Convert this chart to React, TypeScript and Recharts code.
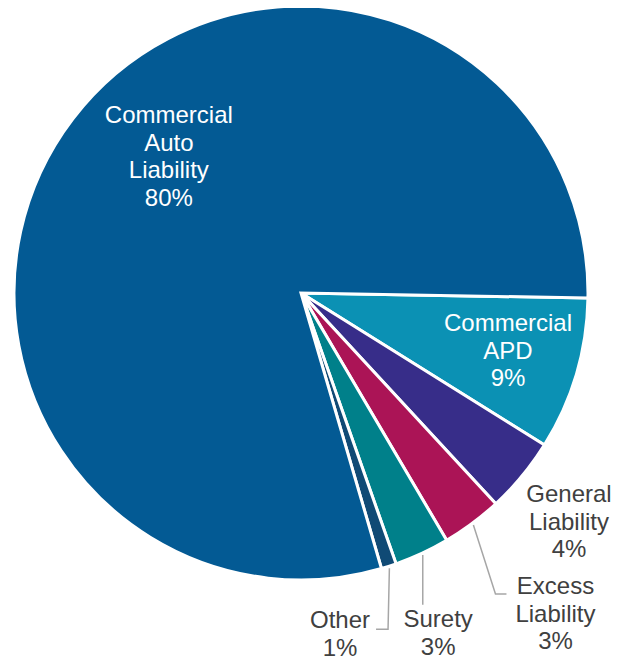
import React from 'react';
import { PieChart, Pie, Cell } from 'recharts';

const categories = ['Commercial APD', 'General Liability', 'Excess Liability', 'Surety', 'Other', 'Commercial Auto Liability'];
const shares = [8.6, 4.25, 3.4, 3.1, 0.85, 79.8];
const labelLines = [
    ['Commercial', 'APD'],
    ['General', 'Liability'],
    ['Excess', 'Liability'],
    ['Surety'],
    ['Other'],
    ['Commercial', 'Auto', 'Liability'],
];

const COLORS = ['#0b91b4', '#372d89', '#ab1456', '#00808a', '#104a75', '#035a94'];

// where each label sits: radius factor + angle shift from the slice middle
const LABEL_POS = [
    { r: 0.75, da: 0.6, fill: '#ffffff' },
    { r: 1.23, da: -1, fill: '#404040' },
    { r: 1.43, da: 1.7, fill: '#404040' },
    { r: 1.28, da: -3, fill: '#404040' },
    { r: 1.2, da: -11.3, fill: '#404040' },
    { r: 0.66, da: -8.4, fill: '#ffffff' },
];

// leader line bends, relative to label center
const LEADERS: Record<number, Array<[number, number]>> = {
    2: [[-60, -21], [-49, -21]],
    3: [[-11, -29]],
    4: [[48, -6], [36, -6]],
};

const RAD = Math.PI / 180;
const FONT = 24;
const LINE_H = 27.5;

// eslint-disable-next-line @typescript-eslint/no-explicit-any
const renderLabel = (props: any) => {
    const { cx, cy, midAngle, outerRadius, index, value } = props;
    const pos = LABEL_POS[index];
    const a = (midAngle + pos.da) * RAD;
    const x = cx + outerRadius * pos.r * Math.cos(-a);
    const y = cy + outerRadius * pos.r * Math.sin(-a);
    const lines = [...labelLines[index], `${Math.round(value)}%`];
    const top = y - ((lines.length - 1) * LINE_H) / 2 - 2;

    let leader = null;
    const bends = LEADERS[index];
    if (bends) {
        const sx = cx + (outerRadius + 2) * Math.cos(-midAngle * RAD);
        const sy = cy + (outerRadius + 2) * Math.sin(-midAngle * RAD);
        const pts = bends.map(([dx, dy], i) => {
            // surety goes straight down
            if (index === 3 && i === 0) return `${sx},${y + dy}`;
            return `${x + dx},${y + dy}`;
        });
        leader = <polyline points={`${sx},${sy} ${pts.join(' ')}`} fill="none" stroke="#a6a6a6" strokeWidth={1.5} />;
    }

    return (
        <g key={`lbl-${index}`}>
            {leader}
            <text x={x} y={top} textAnchor="middle" dominantBaseline="central" fill={pos.fill} fontSize={FONT} fontFamily="'Liberation Sans', Arial, sans-serif">
                {lines.map((l, i) => (
                    <tspan key={i} x={x} y={top + i * LINE_H}>{l}</tspan>
                ))}
            </text>
        </g>
    );
};

const App: React.FC = () => {
    const data = categories.map((name, i) => ({ name, value: shares[i] }));
    return (
        <PieChart width={607} height={655} margin={{ top: 0, right: 0, bottom: 0, left: 0 }}>
            <Pie
                data={data}
                dataKey="value"
                nameKey="name"
                cx={293}
                cy={285}
                outerRadius={287}
                startAngle={-1}
                endAngle={-361}
                stroke="#ffffff"
                strokeWidth={3}
                label={renderLabel}
                labelLine={false}
                isAnimationActive={false}
            >
                {data.map((d, i) => (
                    <Cell key={d.name} fill={COLORS[i]} />
                ))}
            </Pie>
        </PieChart>
    );
};

export default App;
